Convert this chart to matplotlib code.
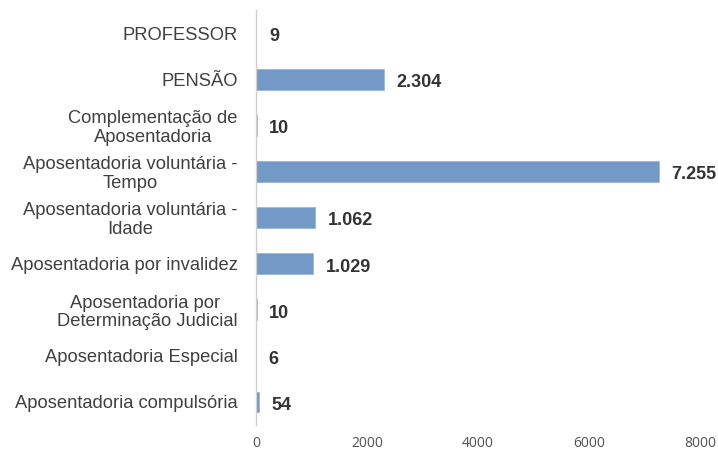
import matplotlib
matplotlib.use("Agg")
import matplotlib.pyplot as plt

categories = [
    "PROFESSOR",
    "PENSÃO",
    "Complementação de\nAposentadoria",
    "Aposentadoria voluntária -\nTempo",
    "Aposentadoria voluntária -\nIdade",
    "Aposentadoria por invalidez",
    "Aposentadoria por \nDeterminação Judicial",
    "Aposentadoria Especial",
    "Aposentadoria compulsória",
]
values = [9, 2304, 10, 7255, 1062, 1029, 10, 6, 54]
value_labels = ["9", "2.304", "10", "7.255", "1.062", "1.029", "10", "6", "54"]
xticks = [0, 2000, 4000, 6000, 8000]

fig = plt.figure(figsize=(7.18, 4.55), dpi=100)
ax = fig.add_axes([0.3565, 0.066, 0.6185, 0.912])

y = list(range(len(categories)))
ax.barh(y, values, height=0.45, color="#7399c6", edgecolor="#9bb7da", linewidth=0.6)
ax.set_ylim(len(categories) - 0.5, -0.5)
ax.set_xlim(0, 8000)
ax.set_yticks(y)
ax.set_yticklabels(categories, fontsize=13.2, color="#404040", family="Liberation Sans",
                   linespacing=1.1, multialignment="center")
ax.set_xticks(xticks)
ax.set_xticklabels([str(t) for t in xticks], fontsize=10, color="#505050", family="Open Sans")
ax.tick_params(axis="both", length=0)
ax.tick_params(axis="y", pad=13)
ax.tick_params(axis="x", pad=8)

for s in ["top", "right", "bottom"]:
    ax.spines[s].set_visible(False)
ax.spines["left"].set_color("#d0d0d0")
ax.spines["left"].set_linewidth(1.0)

for yi, v, lab in zip(y, values, value_labels):
    ax.annotate(lab, xy=(v, yi), xytext=(9, -2.5), textcoords="offset points",
                ha="left", va="center", fontsize=13, fontweight="bold",
                color="#333333", family="Liberation Sans")

fig.savefig("out.png", dpi=100)
